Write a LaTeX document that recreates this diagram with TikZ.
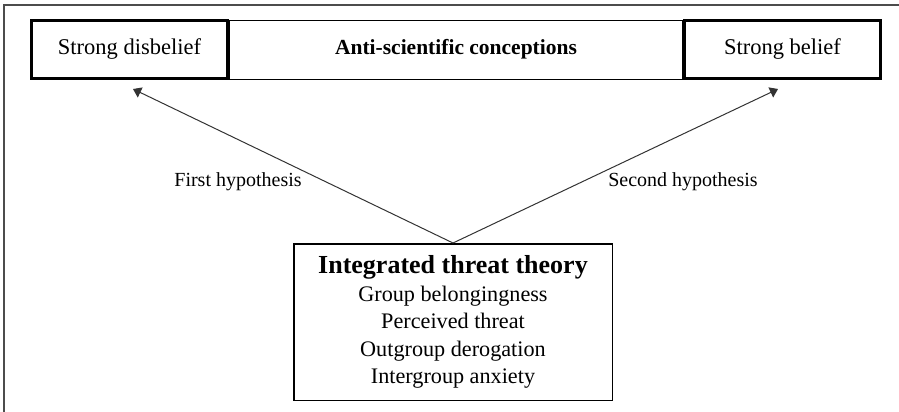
\documentclass[tikz,border=0pt]{standalone}
\usepackage{fontspec}
\setmainfont{Liberation Serif}
\usetikzlibrary{positioning, arrows.meta}
\tikzset {
    >={Triangle[length=4pt, width=5.5pt]},
    endbox/.style={draw, line width=1.5pt, minimum width=98pt, minimum height=29pt, inner sep=0pt,
        font=\fontsize{11.25}{13}\selectfont},
    midbox/.style={draw, line width=0.5pt, minimum width=226.5pt, minimum height=29.5pt, inner sep=0pt,
        font=\bfseries\fontsize{10.75}{13}\selectfont},
    theorybox/.style={draw, line width=0.75pt, minimum width=159.25pt, minimum height=78.25pt, inner sep=0pt,
        align=center, font=\fontsize{11.1}{13.75}\selectfont},
    hyp/.style={font=\fontsize{10}{12}\selectfont},
    link/.style={->, line width=0.5pt, draw=black!80}
}

\begin{document}
\begin{tikzpicture}[x=0.5pt, y=-0.5pt]
    \useasboundingbox (0,0) rectangle (899,412);
    % frame round the figure
    \draw[gray!60!black, line width=0.75pt] (4,412) -- (4,5) -- (899,5);

    \node[midbox] (conc) at (456,49.5) {Anti-scientific conceptions};
    \node[endbox, left=0pt of conc] (disb) {Strong disbelief};
    \node[endbox, right=0pt of conc] (bel) {Strong belief};

    \node[theorybox] (itt) at (453,322) {{\bfseries\fontsize{13}{13.75}\selectfont Integrated threat theory}\\
        Group belongingness\\ Perceived threat\\ Outgroup derogation\\ Intergroup anxiety};

    \coordinate (disbtip) at (133,89);
    \coordinate (beltip) at (778,89);

    \draw[link] (itt.north) -- (disbtip);
    \draw[link] (itt.north) -- (beltip);

    \node[hyp] (hypone) at (238,182) {First hypothesis};
    \node[hyp] (hyptwo) at (683,182) {Second hypothesis};
\end{tikzpicture}
\end{document}
